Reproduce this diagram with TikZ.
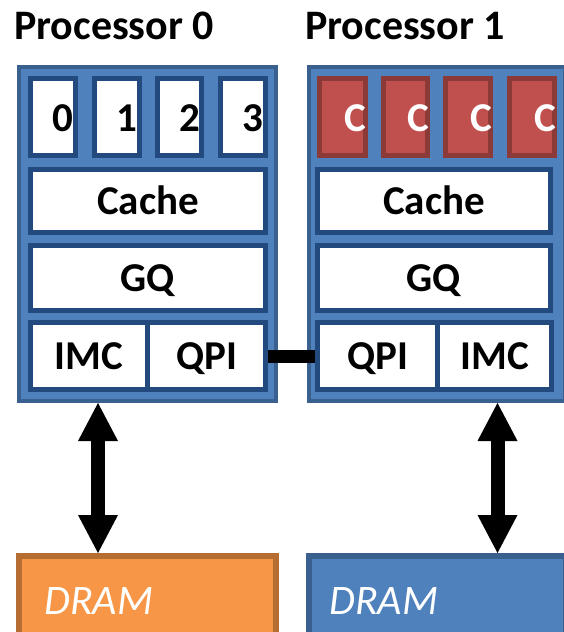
\documentclass[tikz,border=0pt]{standalone}
\usepackage{fontspec}
\setmainfont{Carlito}
\usetikzlibrary{arrows.meta}

\definecolor{procblue}{HTML}{4F81BD}
\definecolor{frameblue}{HTML}{3A6090}
\definecolor{unitborder}{HTML}{224A7E}
\definecolor{corered}{HTML}{C0504D}
\definecolor{coreborder}{HTML}{8C3A38}
\definecolor{dramorange}{HTML}{F79646}
\definecolor{dramoborder}{HTML}{B66D31}

\begin{document}
\begin{tikzpicture}[x=1pt,y=-1pt,
  bigfont/.style={font=\fontsize{41}{41}\selectfont\bfseries},
  procframe/.style={draw=frameblue,fill=procblue,line width=4pt,inner sep=0pt},
  unitbox/.style={draw=unitborder,fill=white,line width=5pt,inner sep=0pt,
    bigfont,text height=26pt,text depth=0pt},
  corebox/.style={unitbox},
  redcore/.style={draw=coreborder,fill=corered,line width=5pt,inner sep=0pt},
  corelabel/.style={bigfont,inner sep=0pt,text height=26pt,text depth=0pt},
  title/.style={font=\fontsize{42}{42}\selectfont\bfseries,inner sep=0pt,anchor=base west},
  drambox/.style={line width=6pt,inner sep=0pt,minimum width=257pt,minimum height=81pt},
  dramtext/.style={font=\fontsize{42}{42}\selectfont\itshape,text=white,inner sep=0pt,anchor=base west},
  membus/.style={line width=14pt,
    {Triangle[width=40pt,length=38pt,line width=0pt]}-{Triangle[width=40pt,length=38pt,line width=0pt]}},
  link/.style={line width=13pt}
]
\useasboundingbox (0,0) rectangle (563,632);

% ---------- titles ----------
\node[title] (t0) at (14,39) {Processor 0};
\node[title] (t1) at (305,39) {Processor 1};

% ---------- processor frames ----------
\node[procframe,minimum width=257pt,minimum height=334pt] (p0) at (147.5,234) {};
\node[procframe,minimum width=256pt,minimum height=334pt] (p1) at (437,234) {};

% ---------- processor 0 cores ----------
\node[corebox,minimum width=45pt,minimum height=77pt] (c00) at (53,117) {};
\node[corebox,minimum width=45pt,minimum height=77pt] (c01) at (117,117) {};
\node[corebox,minimum width=44pt,minimum height=77pt] (c02) at (179.5,117) {};
\node[corebox,minimum width=45pt,minimum height=77pt] (c03) at (243,117) {};
\node[corelabel] (l00) at (63,118) {0};
\node[corelabel] (l01) at (127,118) {1};
\node[corelabel] (l02) at (189.5,118) {2};
\node[corelabel] (l03) at (253,118) {3};

% ---------- processor 1 cores ----------
\node[redcore,minimum width=46pt,minimum height=77pt] (c10) at (342.5,117) {};
\node[redcore,minimum width=44pt,minimum height=77pt] (c11) at (405.5,117) {};
\node[redcore,minimum width=45pt,minimum height=77pt] (c12) at (468,117) {};
\node[redcore,minimum width=45pt,minimum height=77pt] (c13) at (532,117) {};
\node[corelabel,text=white] (l10) at (355.5,118) {C};
\node[corelabel,text=white] (l11) at (418.5,118) {C};
\node[corelabel,text=white] (l12) at (481,118) {C};
\node[corelabel,text=white] (l13) at (545,118) {C};

% ---------- shared units, processor 0 ----------
\node[unitbox,minimum width=235pt,minimum height=63pt] (cache0) at (148,201) {Cache};
\node[unitbox,minimum width=235pt,minimum height=65pt] (gq0) at (148,278) {GQ};
\node[unitbox,minimum width=117pt,minimum height=67pt] (imc0) at (89,356) {IMC};
\node[unitbox,minimum width=118pt,minimum height=67pt] (qpi0) at (206.5,356) {QPI};

% ---------- shared units, processor 1 ----------
\node[unitbox,minimum width=233pt,minimum height=63pt] (cache1) at (434,201) {Cache};
\node[unitbox,minimum width=233pt,minimum height=65pt] (gq1) at (434,278) {GQ};
\node[unitbox,minimum width=120pt,minimum height=67pt] (qpi1) at (377.5,356) {QPI};
\node[unitbox,minimum width=114pt,minimum height=67pt] (imc1) at (494.5,356) {IMC};

% ---------- memory ----------
\node[drambox,draw=dramoborder,fill=dramorange] (dram0) at (147.5,596.5) {};
\node[drambox,draw=frameblue,fill=procblue] (dram1) at (437.5,596.5) {};
\node[dramtext] (d0) at (44,614) {DRAM};
\node[dramtext] (d1) at (329,614) {DRAM};

% ---------- interconnect ----------
\draw[link] (qpi0.east) -- (qpi1.west);

\coordinate (bus0top) at ([xshift=-49.5pt]p0.south);
\coordinate (bus0bot) at (bus0top |- dram0.north);
\coordinate (bus1top) at ([xshift=60.5pt]p1.south);
\coordinate (bus1bot) at (bus1top |- dram1.north);
\draw[membus] (bus0top) -- (bus0bot);
\draw[membus] (bus1top) -- (bus1bot);
\end{tikzpicture}
\end{document}
